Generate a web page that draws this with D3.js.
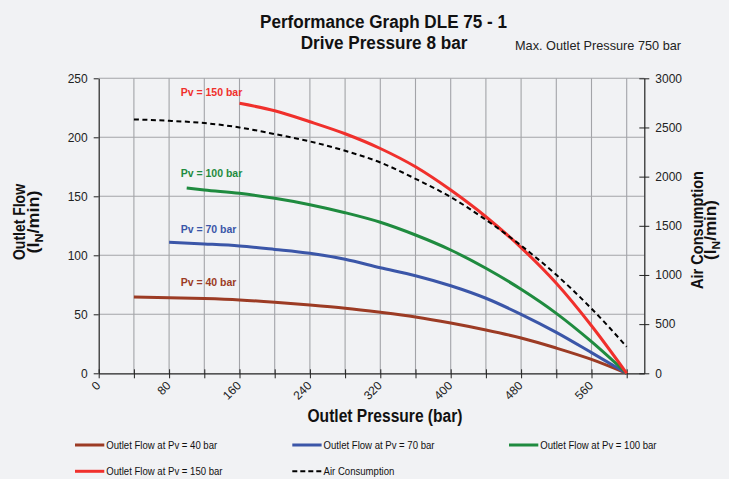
<!DOCTYPE html>
<html><head><meta charset="utf-8">
<script src="https://cdn.jsdelivr.net/npm/d3@7/dist/d3.min.js"></script>
<style>
html,body{margin:0;padding:0;background:#f1f2f4;}
svg{display:block;}
</style></head>
<body><div id="chart"></div>
<script>
// ---- data ----
const pressure40 = [40,80,120,160,200,240,280,320,360,400,440,480,520,560,600];
const flow40     = [64.7,64.1,63.3,62.1,60.2,57.9,55.2,51.7,47.7,42.6,36.7,29.9,21.4,11.8,0];
const pressure70 = [80,120,160,200,240,280,320,360,400,440,480,520,560,600];
const flow70     = [111,109.6,107.9,105,101.7,96.6,89.5,82.7,74.2,63.6,50,34.7,17.5,0];
const pressure100 = [100,120,160,200,240,280,320,360,400,440,480,520,560,600];
const flow100     = [157,155.3,152.5,148.3,142.9,136.1,128,117.2,104.5,89,71.2,50.8,26.8,0];
const pressure150 = [160,200,240,280,320,360,400,440,480,520,560,600];
const flow150     = [228.8,222.5,213.2,203,190.5,175,155.3,132.7,106.5,76.3,40.3,0];
const pressureAir = [40,80,120,160,200,240,280,320,360,400,440,480,520,560,600];
const airConsumption = [2582,2568,2545,2500,2433,2358,2263,2144,1978,1792,1561,1299,1001,658,270];
const xTickLabels = [0,80,160,240,320,400,480,560];
const yTicks = [0,50,100,150,200,250];
const yRightTicks = [0,500,1000,1500,2000,2500,3000];
const seriesNames = ["Outlet Flow at Pv = 40 bar","Outlet Flow at Pv = 70 bar","Outlet Flow at Pv = 100 bar","Outlet Flow at Pv = 150 bar","Air Consumption"];
const curveLabels = ["Pv = 40 bar","Pv = 70 bar","Pv = 100 bar","Pv = 150 bar"];
const colors = ["#9c3b24","#3b56a8","#1f8b3f","#f0302c","#000000"];

// ---- layout ----
const W = 729, H = 479;
const SANS = "'Liberation Sans',Arial,Helvetica,sans-serif";
const svg = d3.select("#chart").append("svg").attr("width", W).attr("height", H);
svg.append("rect").attr("width", W).attr("height", H).attr("fill", "#f1f2f4");

const x = d3.scaleLinear().domain([0, 620]).range([98.7, 644.3]);
const y = d3.scaleLinear().domain([0, 250]).range([373.3, 78.3]);
const yR = d3.scaleLinear().domain([0, 3000]).range([373.3, 78.3]);

function squeeze(sel, width) {
  sel.attr("textLength", width).attr("lengthAdjust", "spacingAndGlyphs");
}
function squeezeBy(sel, f) {
  const w = sel.node().getComputedTextLength();
  squeeze(sel, w * f);
}

// grid
const g = svg.append("g");
g.selectAll(".vg").data(d3.range(40, 620, 40)).join("line")
  .attr("x1", d => x(d)).attr("x2", d => x(d)).attr("y1", y(0)).attr("y2", y(250))
  .attr("stroke", "#a3a4a8").attr("stroke-width", 1.1);
g.selectAll(".hg").data(yTicks.filter(d => d > 0)).join("line")
  .attr("x1", x(0)).attr("x2", x(620)).attr("y1", d => y(d)).attr("y2", d => y(d))
  .attr("stroke", "#a3a4a8").attr("stroke-width", 1.1);

// axes
const axL = svg.append("g").attr("transform", `translate(${x(0)},0)`)
  .call(d3.axisLeft(y).tickValues(yTicks).tickSize(5).tickPadding(6).tickSizeOuter(0));
const axR = svg.append("g").attr("transform", `translate(${x(620)},0)`)
  .call(d3.axisRight(yR).tickValues(yRightTicks).tickFormat(d3.format("d")).tickSize(5).tickPadding(6).tickSizeOuter(0));
axR.selectAll(".tick line").attr("x1", -5);
const axB = svg.append("g").attr("transform", `translate(0,${y(0)})`)
  .call(d3.axisBottom(x).tickValues(d3.range(0, 620, 40)).tickSize(5).tickSizeOuter(0)
    .tickFormat(d => xTickLabels.includes(d) ? d : ""));
axB.selectAll(".tick line").attr("y1", -4);
[axL, axR, axB].forEach(a => {
  a.select(".domain").attr("stroke", "#222").attr("stroke-width", 1.2);
  a.selectAll(".tick line").attr("stroke", "#222");
  a.selectAll("text").attr("font-family", SANS).attr("font-size", 12).attr("fill", "#222");
});
axB.selectAll(".tick text").attr("text-anchor", "end")
  .attr("y", 0).attr("dy", 0)
  .attr("transform", "translate(2,13) rotate(-45)");

// curves
const line = d3.line().x(d => x(d[0])).y(d => y(d[1])).curve(d3.curveMonotoneX);
const lineR = d3.line().x(d => x(d[0])).y(d => yR(d[1])).curve(d3.curveMonotoneX);
const flows = [[pressure40, flow40],[pressure70, flow70],[pressure100, flow100],[pressure150, flow150]];
flows.forEach(([p, f], i) => {
  svg.append("path").datum(d3.zip(p, f)).attr("d", line)
    .attr("fill", "none").attr("stroke", colors[i]).attr("stroke-width", 3);
});
svg.append("path").datum(d3.zip(pressureAir, airConsumption)).attr("d", lineR)
  .attr("fill", "none").attr("stroke", "#000").attr("stroke-width", 2).attr("stroke-dasharray", "5,3.5");

// curve labels
const labelY = [286, 232.5, 176.5, 95.5];
curveLabels.forEach((t, i) => {
  svg.append("text").attr("x", 180.7).attr("y", labelY[i]).text(t)
    .attr("font-family", SANS).attr("font-weight", "bold").attr("font-size", 10.5).attr("fill", colors[i]);
});

// titles
squeeze(svg.append("text").attr("x", 383.5).attr("y", 27.7).attr("text-anchor", "middle")
  .attr("font-family", SANS).attr("font-weight", "bold").attr("font-size", 18).attr("fill", "#111")
  .text("Performance Graph DLE 75 - 1"), 247);
squeeze(svg.append("text").attr("x", 384).attr("y", 49.3).attr("text-anchor", "middle")
  .attr("font-family", SANS).attr("font-weight", "bold").attr("font-size", 18).attr("fill", "#111")
  .text("Drive Pressure 8 bar"), 166.7);
squeeze(svg.append("text").attr("x", 515).attr("y", 50)
  .attr("font-family", SANS).attr("font-size", 12.6).attr("fill", "#222")
  .text("Max. Outlet Pressure 750 bar"), 166);

squeeze(svg.append("text").attr("x", 385).attr("y", 422).attr("text-anchor", "middle")
  .attr("font-family", SANS).attr("font-weight", "bold").attr("font-size", 17.5).attr("fill", "#111")
  .text("Outlet Pressure (bar)"), 155);

function unitLabel(sel) {
  sel.append("tspan").text("(l");
  sel.append("tspan").text("N").attr("font-size", "0.7em").attr("dy", 4);
  sel.append("tspan").text("/min)").attr("dy", -4);
}
function yTitle(bx1, bx2, cy, t, w1, w2) {
  squeeze(svg.append("text").attr("transform", `translate(${bx1},${cy}) rotate(-90)`).attr("text-anchor", "middle")
    .attr("font-family", SANS).attr("font-weight", "bold").attr("font-size", 16.5).attr("fill", "#111").text(t), w1);
  const u = svg.append("text").attr("transform", `translate(${bx2},${cy}) rotate(-90)`).attr("text-anchor", "middle")
    .attr("font-family", SANS).attr("font-weight", "bold").attr("font-size", 16.5).attr("fill", "#111");
  unitLabel(u);
  squeeze(u, w2);
}
yTitle(25, 39, 222, "Outlet Flow", 76, 63);
yTitle(703, 716, 230, "Air Consumption", 118, 60);

// legend
const legendPos = [[75,445],[292.3,445],[509,445],[75,471.3],[292.3,471.3]];
seriesNames.forEach((t, i) => {
  const [lx, ly] = legendPos[i];
  svg.append("line").attr("x1", lx).attr("x2", lx + 29.3).attr("y1", ly).attr("y2", ly)
    .attr("stroke", colors[i]).attr("stroke-width", i === 4 ? 2 : 3)
    .attr("stroke-dasharray", i === 4 ? "5,3" : null);
  const tx = svg.append("text").attr("x", lx + 31.3).attr("y", ly + 4).text(t)
    .attr("font-family", SANS).attr("font-size", 11).attr("fill", "#111");
  squeezeBy(tx, 0.87);
});
</script></body></html>
